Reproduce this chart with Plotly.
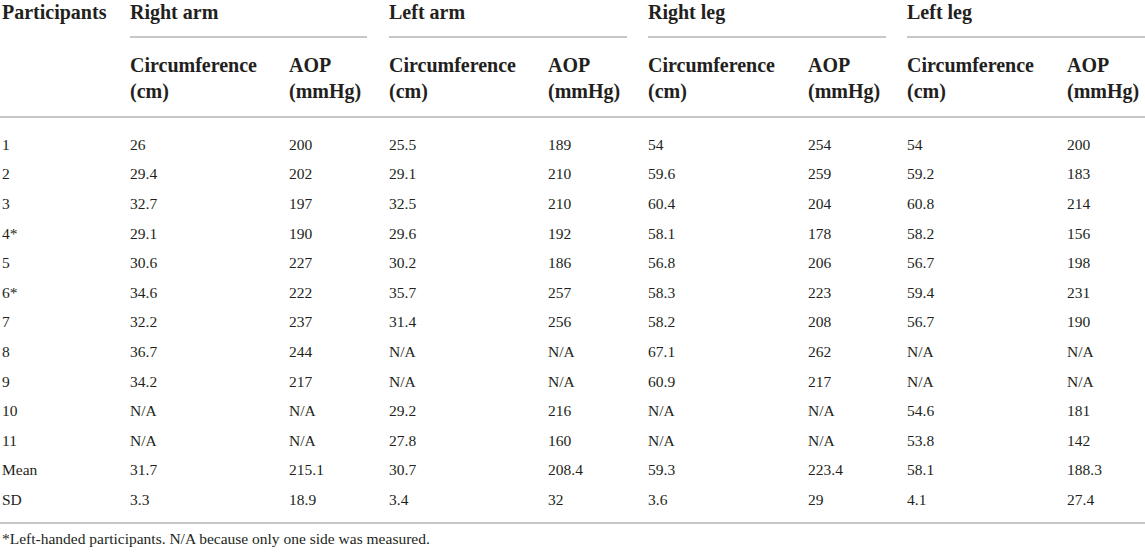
import plotly.graph_objects as go

# Table content
groups = ["Right arm", "Left arm", "Right leg", "Left leg"]
sub_headers = ["Circumference<br>(cm)", "AOP<br>(mmHg)"] * 4
participants = ["1", "2", "3", "4*", "5", "6*", "7", "8", "9", "10", "11", "Mean", "SD"]

right_arm_circ = [26, 29.4, 32.7, 29.1, 30.6, 34.6, 32.2, 36.7, 34.2, None, None, 31.7, 3.3]
right_arm_aop = [200, 202, 197, 190, 227, 222, 237, 244, 217, None, None, 215.1, 18.9]
left_arm_circ = [25.5, 29.1, 32.5, 29.6, 30.2, 35.7, 31.4, None, None, 29.2, 27.8, 30.7, 3.4]
left_arm_aop = [189, 210, 210, 192, 186, 257, 256, None, None, 216, 160, 208.4, 32]
right_leg_circ = [54, 59.6, 60.4, 58.1, 56.8, 58.3, 58.2, 67.1, 60.9, None, None, 59.3, 3.6]
right_leg_aop = [254, 259, 204, 178, 206, 223, 208, 262, 217, None, None, 223.4, 29]
left_leg_circ = [54, 59.2, 60.8, 58.2, 56.7, 59.4, 56.7, None, None, 54.6, 53.8, 58.1, 4.1]
left_leg_aop = [200, 183, 214, 156, 198, 231, 190, None, None, 181, 142, 188.3, 27.4]

footnote = "*Left-handed participants. N/A because only one side was measured."

columns = [right_arm_circ, right_arm_aop, left_arm_circ, left_arm_aop,
           right_leg_circ, right_leg_aop, left_leg_circ, left_leg_aop]


def fmt(v):
    return "N/A" if v is None else f"{v:g}"


# Layout (pixel space)
W, H = 1145, 552
col_x = [2, 130, 289, 389, 548, 648, 808, 907, 1067]
group_x = [130, 389, 648, 907]
group_end = [367, 627, 886, 1145]
row_top, row_pitch = 146, 29.6
font = "Liberation Serif"
ink = "#231f20"
rule = "#b4b4b4"

fig = go.Figure()

# header: top-level labels
fig.add_trace(go.Scatter(
    x=[col_x[0]] + group_x,
    y=[14] * 5,
    text=["Participants"] + groups,
    mode="text",
    textposition="middle right",
    textfont=dict(family=font, size=20, color=ink, weight="bold"),
    hoverinfo="skip",
))

# header: sub labels
fig.add_trace(go.Scatter(
    x=col_x[1:],
    y=[80] * 8,
    text=sub_headers,
    mode="text",
    textposition="middle right",
    textfont=dict(family=font, size=20, color=ink, weight="bold"),
    hoverinfo="skip",
))

# body
xs, ys, txt = [], [], []
for i, p in enumerate(participants):
    y = row_top + i * row_pitch
    xs.append(col_x[0])
    ys.append(y)
    txt.append(p)
    for j, col in enumerate(columns):
        xs.append(col_x[j + 1])
        ys.append(y)
        txt.append(fmt(col[i]))

fig.add_trace(go.Scatter(
    x=xs, y=ys, text=txt,
    mode="text",
    textposition="middle right",
    textfont=dict(family=font, size=15.5, color=ink),
    hoverinfo="skip",
))

fig.add_trace(go.Scatter(
    x=[col_x[0]], y=[540], text=[footnote],
    mode="text",
    textposition="middle right",
    textfont=dict(family=font, size=15.5, color=ink),
    hoverinfo="skip",
))

shapes = []
for x0, x1 in zip(group_x, group_end):
    shapes.append(dict(type="line", x0=x0, x1=x1, y0=37, y1=37,
                       xref="x", yref="y", line=dict(color=rule, width=1.6)))
for yl in (117, 523):
    shapes.append(dict(type="line", x0=0, x1=W, y0=yl, y1=yl,
                       xref="x", yref="y", line=dict(color=rule, width=1.6)))

fig.update_layout(
    width=W, height=H,
    autosize=False,
    margin=dict(l=0, r=0, t=0, b=0),
    xaxis=dict(range=[0, W], visible=False, fixedrange=True),
    yaxis=dict(range=[H, 0], visible=False, fixedrange=True),
    plot_bgcolor="white",
    paper_bgcolor="white",
    showlegend=False,
    shapes=shapes,
)

fig.write_html("out.html", config={"displayModeBar": False},
               post_script="document.body.style.margin='0';")
